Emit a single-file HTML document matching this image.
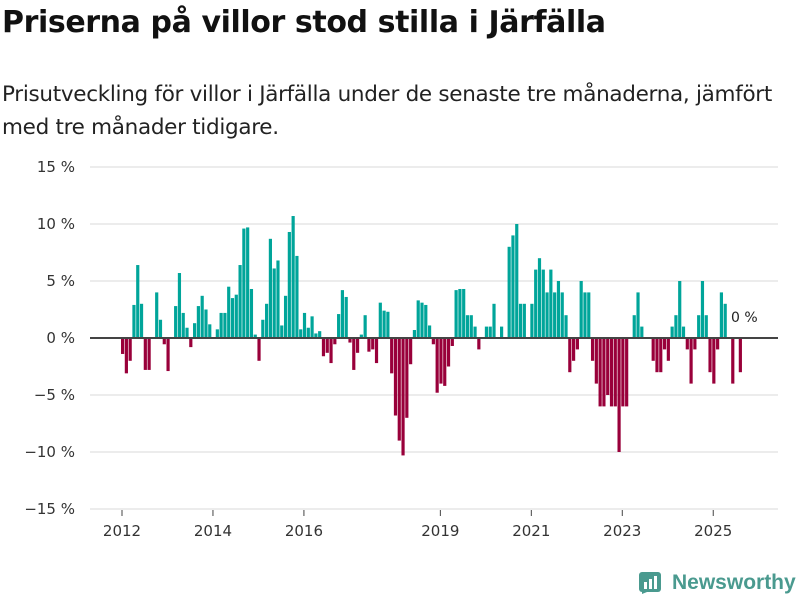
<!DOCTYPE html>
<html><head><meta charset="utf-8">
<style>
body{margin:0;width:800px;height:600px;background:#fff;font-family:"Liberation Sans","DejaVu Sans",sans-serif;overflow:hidden;position:relative}
h1{position:absolute;left:2px;top:5px;margin:0;font-size:30px;font-weight:bold;color:#111;font-family:"DejaVu Sans","Liberation Sans",sans-serif;letter-spacing:-0.4px}
.sub{position:absolute;left:2px;top:78px;font-size:21.5px;line-height:33px;color:#222;font-family:"DejaVu Sans","Liberation Sans",sans-serif;width:800px;letter-spacing:-0.3px}
svg{position:absolute;left:0;top:0}
</style></head><body>
<h1>Priserna på villor stod stilla i Järfälla</h1>
<div class="sub">Prisutveckling för villor i Järfälla under de senaste tre månaderna, jämfört<br>med tre månader tidigare.</div>
<svg id="chart" width="800" height="600"></svg>
<script>
const values=[-1.4,-3.1,-2.0,2.9,6.4,3.0,-2.8,-2.8,0,4.0,1.6,-0.55,-2.9,0,2.8,5.7,2.2,0.9,-0.8,1.3,2.8,3.7,2.5,1.2,0,0.76,2.2,2.2,4.5,3.5,3.8,6.4,9.6,9.7,4.3,0.3,-2.0,1.6,3.0,8.7,6.1,6.8,1.1,3.7,9.3,10.7,7.2,0.76,2.2,0.9,1.9,0.4,0.6,-1.6,-1.3,-2.2,-0.55,2.1,4.2,3.6,-0.4,-2.8,-1.3,0.3,2.0,-1.2,-1.0,-2.2,3.1,2.4,2.3,-3.1,-6.8,-9.0,-10.3,-7.0,-2.3,0.7,3.3,3.1,2.9,1.1,-0.55,-4.8,-4.0,-4.2,-2.5,-0.7,4.2,4.3,4.3,2.0,2.0,1.0,-1.0,0,1,1,3,0,1,0,8,9,10,3,3,0,3,6,7,6,4,6,4,5,4,2,-3,-2,-1,5,4,4,-2,-4,-6,-6,-5,-6,-6,-10,-6,-6,0,2,4,1,0,0,-2,-3,-3,-1,-2,1,2,5,1,-1,-4,-1,2,5,2,-3,-4,-1,4,3,0,-4,0,-3,0];
const yTicks=[15,10,5,0,-5,-10,-15];
const yTickLabels=["15 %","10 %","5 %","0 %","−5 %","−10 %","−15 %"];
const xYears=[2012,2014,2016,2019,2021,2023,2025];
const startYear=2012;
const svg=document.getElementById('chart');
const NS='http://www.w3.org/2000/svg';
const step=3.79, x0=121;
const xm=m=>x0+m*step;
const xYear=y=>xm((y-startYear)*12)+1;
const y=v=>338-v*11.4;
function mk(t,a){const e=document.createElementNS(NS,t);for(const k in a)e.setAttribute(k,a[k]);svg.appendChild(e);return e;}
yTicks.forEach((t,i)=>{
 if(t!==0){const g=mk('line',{x1:90,x2:778,y1:y(t),y2:y(t),stroke:'#e0e0e0','stroke-width':1.3});
 
 }
 const l=mk('text',{x:75,y:y(t)+5,'text-anchor':'end','font-size':15,fill:'#333','font-family':'DejaVu Sans, Liberation Sans, sans-serif'});
 l.textContent=yTickLabels[i];
 
 
});
values.forEach((v,m)=>{
 if(v===0)return;
 const r=mk('rect',{x:xm(m),width:step*0.84,y:v>0?y(v):y(0),height:Math.abs(y(v)-y(0)),fill:v>0?'#00a59a':'#99003a'});
 
 
});
const z=mk('line',{x1:90,x2:778,y1:y(0),y2:y(0),stroke:'#444','stroke-width':2});


xYears.forEach(yr=>{
 const tk=mk('line',{x1:xYear(yr),x2:xYear(yr),y1:510,y2:516,stroke:'#444','stroke-width':1});
 
 
 const t=mk('text',{x:xYear(yr),y:536,'text-anchor':'middle','font-size':15,fill:'#333','font-family':'DejaVu Sans, Liberation Sans, sans-serif'});
 t.textContent=yr;
 
 
});
const last=mk('text',{x:731,y:322,'font-size':14,fill:'#222','font-family':'DejaVu Sans, Liberation Sans, sans-serif'});
last.textContent=values[values.length-1]+' %';


</script>
<div style="position:absolute;left:639px;top:570px;display:flex;align-items:center">
<svg width="24" height="26" style="position:static"><rect x="0" y="2" width="22" height="20" rx="3" fill="#4a9a8f"/><path d="M3 24 L3 20 L8 22 Z" fill="#4a9a8f"/><rect x="5" y="12" width="3" height="7" fill="#fff"/><rect x="10" y="9" width="3" height="10" fill="#fff"/><rect x="15" y="6" width="3" height="13" fill="#fff"/></svg>
<span style="color:#4a9a8f;font-weight:bold;font-size:21px;margin-left:9px;font-family:'Liberation Sans',sans-serif">Newsworthy</span>
</div>
</body></html>
